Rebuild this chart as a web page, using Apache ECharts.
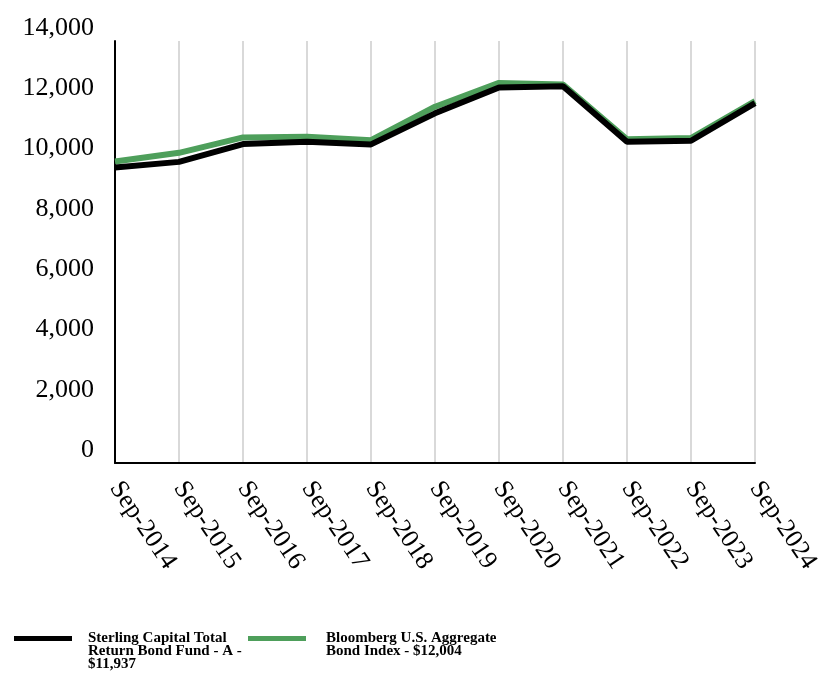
<!DOCTYPE html>
<html><head><meta charset="utf-8">
<script src="https://cdn.jsdelivr.net/npm/echarts@6/dist/echarts.min.js"></script>
<style>html,body{margin:0;padding:0;background:#fff}#c{width:828px;height:684px}</style>
</head><body><div id="c"></div>
<script>
const categories = ['Sep-2014','Sep-2015','Sep-2016','Sep-2017','Sep-2018','Sep-2019','Sep-2020','Sep-2021','Sep-2022','Sep-2023','Sep-2024'];
const fundValues = [9800, 9990, 10580, 10660, 10570, 11600, 12460, 12500, 10660, 10690, 11937];
const indexValues = [10000, 10290, 10800, 10820, 10710, 11820, 12610, 12560, 10740, 10780, 12004];
const fundName = 'Sterling Capital Total Return Bond Fund - A - $11,937';
const indexName = 'Bloomberg U.S. Aggregate Bond Index - $12,004';
const fundLegendText = 'Sterling Capital Total\nReturn Bond Fund - A -\n$11,937';
const indexLegendText = 'Bloomberg U.S. Aggregate\nBond Index - $12,004';
const yTicks = [0, 2000, 4000, 6000, 8000, 10000, 12000, 14000];

const chart = echarts.init(document.getElementById('c'), null, {renderer:'canvas'});
const serif = '"Liberation Serif","Times New Roman",serif';
const LH = 13;
chart.setOption({
  animation: false,
  grid: {left: 115, right: 73, top: 41, bottom: 221, containLabel: false},
  xAxis: {
    type: 'category', data: categories, boundaryGap: false,
    axisLine: {lineStyle: {color: '#000', width: 2}},
    axisTick: {show: false},
    splitLine: {show: true, lineStyle: {color: '#d9d9d9', width: 2}},
    axisLabel: {rotate: -56, margin: 21, fontFamily: serif, fontSize: 26, color: '#000', interval: 0}
  },
  yAxis: {
    type: 'value', min: yTicks[0], max: yTicks[yTicks.length-1], interval: 2000,
    axisLine: {show: true, lineStyle: {color: '#000', width: 2}},
    axisTick: {show: false},
    splitLine: {show: false},
    axisLabel: {margin: 21, fontFamily: serif, fontSize: 26, color: '#000', verticalAlign: 'bottom',
      formatter: v => v.toLocaleString('en-US')}
  },
  legend: {
    left: 14, top: 605, padding: 0, orient: 'horizontal', itemGap: 3,
    itemWidth: 58, itemHeight: 5, icon: 'rect',
    data: [
      {name: fundName, itemStyle: {color: '#000'}, textStyle: {padding: [0, 0, 0, 11], width: 157}},
      {name: indexName, itemStyle: {color: '#4E9F5B'}, textStyle: {padding: [0, 0, 0, 15], width: 190}}
    ],
    formatter: n => n === fundName ? '\n\n' + fundLegendText : '\n' + indexLegendText,
    textStyle: {fontFamily: serif, fontSize: 15, fontWeight: 'bold', color: '#000', lineHeight: LH}
  },
  series: [
    {name: indexName, type: 'line', data: indexValues, showSymbol: false, symbol: 'none', z: 2,
     lineStyle: {color: '#4E9F5B', width: 6}, itemStyle: {color: '#4E9F5B'}},
    {name: fundName, type: 'line', data: fundValues, showSymbol: false, symbol: 'none', z: 3,
     lineStyle: {color: '#000', width: 6}, itemStyle: {color: '#000'}}
  ]
});
</script></body></html>
